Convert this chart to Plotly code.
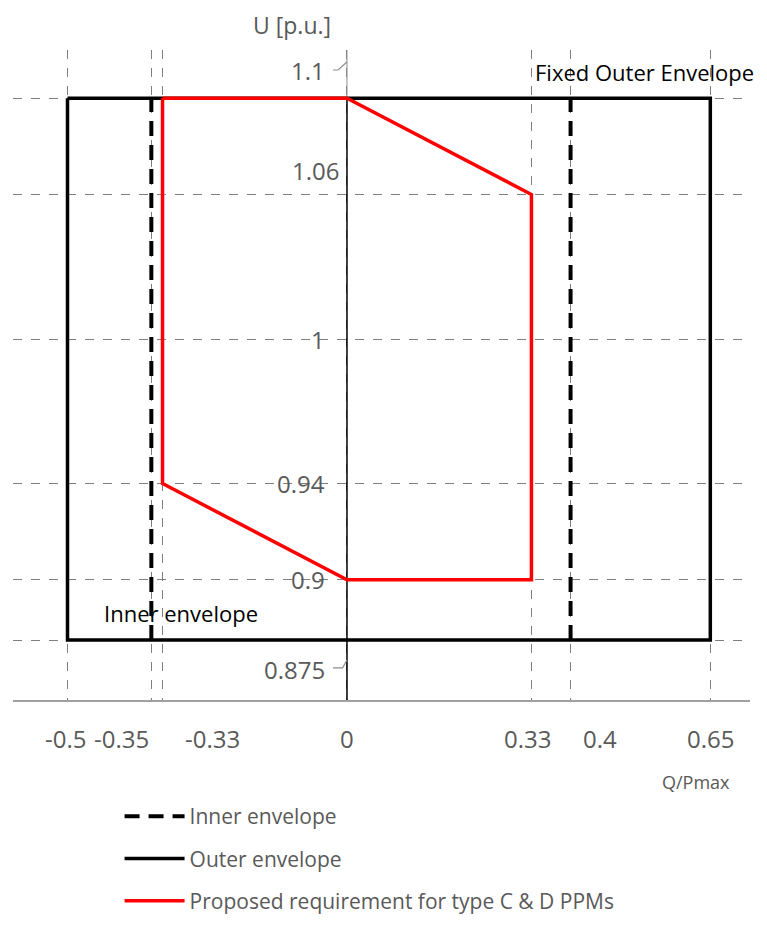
import plotly.graph_objects as go

# ---- data ----
outer_q = [-0.5, 0.65, 0.65, -0.5, -0.5]
outer_u = [1.1, 1.1, 0.875, 0.875, 1.1]
inner_q = [-0.35, 0.4]
inner_u = [0.875, 1.1]
req_q = [-0.33, 0.0, 0.33, 0.33, 0.0, -0.33, -0.33]
req_u = [1.1, 1.1, 1.06, 0.9, 0.9, 0.94, 1.1]
x_ticks = [-0.5, -0.35, -0.33, 0, 0.33, 0.4, 0.65]
y_ticks = [1.1, 1.06, 1, 0.94, 0.9, 0.875]
x_tick_labels = ["-0.5", "-0.35", "-0.33", "0", "0.33", "0.4", "0.65"]
y_tick_labels = ["1.1", "1.06", "1", "0.94", "0.9", "0.875"]

XR = [-0.5975, 0.721]
YR = [0.8501, 1.12]
GRAY = "#595959"
LEAD = "#8c8c8c"
FONT = "Open Sans"

fig = go.Figure()

# y-axis line at Q=0
fig.add_trace(go.Scatter(x=[0, 0], y=[YR[0], 1.1], mode="lines",
                         line=dict(color="black", width=1.5),
                         showlegend=False, hoverinfo="skip"))
fig.add_trace(go.Scatter(x=[0, 0], y=[1.1, YR[1]], mode="lines",
                         line=dict(color=LEAD, width=1),
                         showlegend=False, hoverinfo="skip"))

# inner envelope
for i, q in enumerate(inner_q):
    fig.add_trace(go.Scatter(x=[q, q], y=inner_u, mode="lines",
                             line=dict(color="black", width=4, dash="15px,9px"),
                             name="Inner envelope", legendgroup="inner",
                             showlegend=(i == 0), hoverinfo="skip"))

fig.add_trace(go.Scatter(x=outer_q, y=outer_u, mode="lines",
                         line=dict(color="black", width=3.5),
                         name="Outer envelope", legendgroup="outer",
                         hoverinfo="skip"))

fig.add_trace(go.Scatter(x=req_q, y=req_u, mode="lines",
                         line=dict(color="#ff0000", width=3.5),
                         name="Proposed requirement for type C & D PPMs",
                         legendgroup="req", hoverinfo="skip"))

ann = []
# y tick labels (label offsets from their value line, px)
y_shift = {1.1: 28, 1.06: 24, 1: 0, 0.94: 0, 0.9: 0, 0.875: -29}
y_xshift = {1.1: -20, 1.06: -6, 1: -20, 0.94: -20, 0.9: -20, 0.875: -20}
for v, t in zip(y_ticks, y_tick_labels):
    ann.append(dict(x=0, y=v, xref="x", yref="y", text=t, showarrow=False,
                    xanchor="right", yanchor="middle", xshift=y_xshift[v], yshift=y_shift[v],
                    font=dict(family=FONT, size=24, color=GRAY)))

# x tick labels
x_shift = {-0.5: -2, -0.35: -30, -0.33: 50, 0: 0, 0.33: -4, 0.4: 29, 0.65: 0}
for v, t in zip(x_ticks, x_tick_labels):
    ann.append(dict(x=v, y=YR[0], xref="x", yref="y", text=t, showarrow=False,
                    xanchor="center", yanchor="middle", xshift=x_shift[v], yshift=-38,
                    font=dict(family=FONT, size=24, color=GRAY)))

ann.append(dict(x=0, y=1, xref="x", yref="paper", text="U [p.u.]", showarrow=False,
                xanchor="right", yanchor="middle", xshift=-14, yshift=25,
                font=dict(family=FONT, size=23, color=GRAY)))
ann.append(dict(x=0.65, y=0, xref="x", yref="paper", text="Q/Pmax", showarrow=False,
                xanchor="right", yanchor="middle", xshift=22, yshift=-82,
                font=dict(family=FONT, size=18, color=GRAY)))
ann.append(dict(x=0.33, y=1.1, xref="x", yref="y", text="Fixed Outer Envelope", showarrow=False,
                xanchor="left", yanchor="middle", xshift=2, yshift=26,
                font=dict(family=FONT, size=22, color="black")))
ann.append(dict(x=-0.5, y=0.875, xref="x", yref="y", text="Inner envelope", showarrow=False,
                xanchor="left", yanchor="middle", xshift=34, yshift=27,
                font=dict(family=FONT, size=22, color="black")))

# leader lines (gray)
lead = dict(color=LEAD, width=1.2)
shapes = [
    dict(type="line", xref="x", yref="y", x0=-0.35, y0=YR[0], x1=-0.399, y1=0.8439, line=lead),
    dict(type="path", xref="x", yref="y",
         path=f"M -0.33,{YR[0]} L -0.33,0.8364 L -0.3077,0.8364", line=lead),
    dict(type="line", xref="x", yref="y", x0=0.33, y0=YR[0], x1=0.3274, y1=0.8435, line=lead),
    dict(type="line", xref="x", yref="y", x0=0.4, y0=YR[0], x1=0.456, y1=0.8435, line=lead),
    dict(type="path", xref="x", yref="y",
         path="M -0.025,1.1117 L -0.016,1.1117 L 0,1.115", line=lead),
    dict(type="path", xref="x", yref="y",
         path="M -0.025,0.8634 L -0.008,0.8634 L 0,0.8667", line=lead),
]

fig.update_layout(
    width=759, height=917,
    margin=dict(l=5, r=17, t=42, b=225, autoexpand=False),
    plot_bgcolor="white", paper_bgcolor="white",
    font=dict(family=FONT, color=GRAY),
    annotations=ann, shapes=shapes,
    showlegend=True,
    legend=dict(xref="container", yref="container", x=0.147, y=0.1407,
                xanchor="left", yanchor="top",
                font=dict(family=FONT, size=21, color=GRAY),
                tracegroupgap=12, itemwidth=60, bgcolor="rgba(0,0,0,0)"),
    xaxis=dict(range=XR, tickvals=x_ticks, showticklabels=False, ticks="",
               showgrid=True, gridcolor="#7f7f7f", griddash="dash", gridwidth=1,
               zeroline=False, showline=True, linecolor="#a0a0a0", linewidth=1.5,
               mirror=False, fixedrange=True),
    yaxis=dict(range=YR, tickvals=y_ticks, showticklabels=False, ticks="",
               showgrid=True, gridcolor="#7f7f7f", griddash="dash", gridwidth=1,
               zeroline=False, showline=False, fixedrange=True),
)

fig.write_html("out.html")
